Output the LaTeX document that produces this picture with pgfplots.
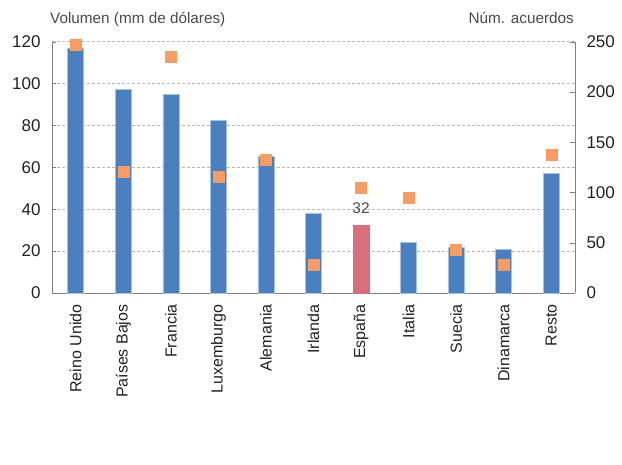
\documentclass[border=0pt]{standalone}
\usepackage{pgfplots}
\pgfplotsset{compat=1.18}
\usepackage{fontspec}
\setmainfont{Liberation Sans}
\definecolor{barblue}{HTML}{4A7FC0}
\definecolor{baredge}{HTML}{A8C2E6}
\definecolor{barred}{HTML}{D96E7C}
\definecolor{sqorange}{HTML}{F79D63}
\definecolor{axgray}{HTML}{808080}
\definecolor{gridgray}{HTML}{B8B8B8}
\definecolor{txt}{HTML}{222222}
\definecolor{ttl}{HTML}{4A4A4A}
\begin{document}
\begin{tikzpicture}[x=1pt,y=1pt]
\useasboundingbox (0,0) rectangle (622,464);
\begin{axis}[
  at={(52pt,171pt)}, anchor=south west,
  width=523pt, height=251.3pt, scale only axis,
  xmin=-0.5, xmax=10.5, ymin=0, ymax=120,
  axis x line*=bottom, axis y line*=left,
  axis line style={axgray, line width=0.8pt},
  xtick={0,...,10},
  xticklabels={Reino Unido,Países Bajos,Francia,Luxemburgo,Alemania,Irlanda,España,Italia,Suecia,Dinamarca,Resto},
  xticklabel style={rotate=90, anchor=east, font=\fontsize{16}{18}\selectfont, color=txt, xshift=-4pt},
  major x tick style={draw=none},
  extra x ticks={0.5,1.5,...,9.5},
  extra x tick labels={},
  extra x tick style={tick align=inside, major tick length=5pt, tick style={axgray, line width=0.6pt}, grid=none},
  ytick={0,20,...,120},
  ymajorgrids,
  grid style={gridgray, dash pattern=on 3pt off 2pt, line width=0.6pt},
  tick align=inside, major tick length=4pt,
  ytick style={axgray},
  yticklabel style={font=\fontsize{17}{19}\selectfont, color=txt, xshift=-8pt},
  /pgf/number format/assume math mode=true,
  ybar, bar width=16pt,
  clip=false,
]
\addplot[fill=barblue, draw=baredge, line width=0.7pt, bar shift=0pt] coordinates {
(0,117) (1,97.4) (2,95) (3,82.5) (4,65.3) (5,38.1) (7,24) (8,21.7) (9,20.9) (10,57.2)};
\addplot[fill=barred, draw=barred, line width=0.7pt, bar shift=0pt,
  nodes near coords={32},
  nodes near coords style={font=\fontsize{15.5}{17}\selectfont, color=ttl, yshift=8pt}] coordinates {
(6,32.4)};
\end{axis}
\begin{axis}[
  at={(52pt,171pt)}, anchor=south west,
  width=523pt, height=251.3pt, scale only axis,
  xmin=-0.5, xmax=10.5, ymin=0, ymax=250,
  axis x line=none, axis y line*=right,
  axis line style={axgray, line width=0.8pt},
  ytick={0,50,...,250},
  tick align=inside, major tick length=5pt,
  ytick style={axgray},
  yticklabel style={font=\fontsize{17}{19}\selectfont, color=txt, xshift=8pt},
  /pgf/number format/assume math mode=true,
  clip=false,
]
\addplot[only marks, mark=square*, mark size=5.5pt, color=sqorange] coordinates {
(0,247) (1,120.8) (2,235) (3,115.8) (4,132.7) (5,28.4) (6,104.9) (7,95) (8,43.3) (9,27.7) (10,137.3)};
\end{axis}
\node[anchor=base west, font=\fontsize{15.3}{17}\selectfont, color=ttl, inner sep=0pt] at (50,440) {Volumen (mm de dólares)};
\node[anchor=base east, font=\fontsize{15.3}{17}\selectfont, color=ttl, inner sep=0pt] at (574,440) {Núm. acuerdos};
\end{tikzpicture}
\end{document}
